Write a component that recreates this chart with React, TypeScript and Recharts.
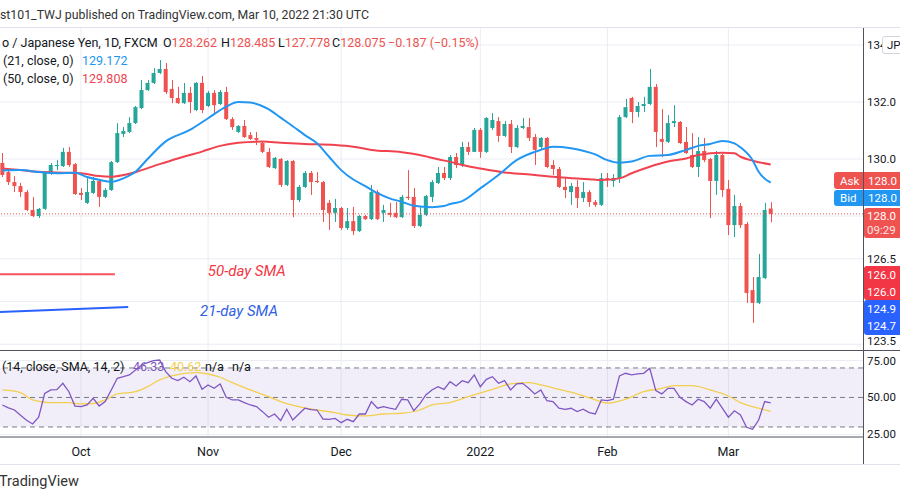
import React from "react";
import {
  ComposedChart,
  Bar,
  Line,
  XAxis,
  YAxis,
  CartesianGrid,
  ReferenceLine,
  ReferenceArea,
  ReferenceDot,
} from "recharts";

const FONT = "Roboto, 'Open Sans', sans-serif";
const UP = "#26a69a";
const DOWN = "#ef5350";
const GRID = "#e9edf3";
const BORDER = "#50535e";
const TEXT = "#131722";

// daily EUR/JPY bars, Sep 14 2021 .. Mar 10 2022
const opens = [
  129.86, 129.54, 129.19, 129.05, 128.84, 128.21, 128.0, 128.25, 129.51, 129.75,
  129.75, 130.25, 129.82, 128.81, 128.46, 128.81, 129.23, 128.67, 128.91, 129.89,
  130.88, 130.95, 131.26, 131.79, 132.42, 132.67, 133.02, 133.16, 132.46, 132.14,
  131.96, 132.32, 131.72, 132.67, 131.86, 132.32, 131.93, 132.35, 131.4, 130.95,
  131.16, 130.84, 130.74, 130.56, 130.25, 129.68, 130.0, 129.09, 129.93, 128.56,
  129.02, 129.51, 129.23, 129.19, 128.46, 128.11, 128.28, 127.58, 127.82, 127.47,
  128.0, 127.89, 128.84, 128.11, 128.11, 128.11, 127.96, 128.67, 128.67, 127.65,
  128.04, 128.67, 129.16, 129.51, 129.33, 130.07, 129.79, 130.42, 130.25, 131.02,
  130.25, 131.09, 131.33, 130.81, 131.23, 130.42, 131.09, 131.12, 130.77, 130.42,
  130.74, 129.79, 129.65, 129.02, 128.84, 129.02, 128.63, 128.84, 128.49, 128.39,
  129.33, 129.23, 129.33, 131.47, 132.14, 131.65, 131.86, 131.93, 132.53, 130.7,
  130.6, 131.26, 131.3, 130.6, 130.14, 129.72, 130.28, 130.0, 129.23, 130.14,
  128.95, 127.68, 128.35, 127.72, 125.4, 124.95, 125.82, 128.262,
];
const highs = [
  130.21, 129.61, 129.4, 129.16, 128.91, 128.67, 128.28, 129.54, 129.86, 129.96,
  130.39, 130.42, 129.86, 128.98, 129.33, 129.37, 129.26, 128.98, 129.93, 131.26,
  131.12, 131.47, 131.86, 132.77, 132.77, 133.19, 133.47, 133.37, 132.77, 132.53,
  132.67, 132.53, 132.7, 132.91, 132.39, 132.42, 132.42, 132.53, 131.47, 131.19,
  131.37, 130.95, 130.95, 130.6, 130.39, 130.07, 130.04, 129.96, 129.96, 129.09,
  129.58, 129.58, 129.54, 129.23, 128.56, 128.6, 128.32, 128.28, 128.32, 128.04,
  128.04, 129.09, 128.91, 128.39, 128.46, 128.49, 128.74, 129.61, 128.98, 128.32,
  128.74, 129.26, 129.72, 129.72, 130.14, 130.21, 130.6, 130.6, 131.09, 131.09,
  131.47, 131.61, 131.47, 131.33, 131.37, 131.19, 131.44, 131.44, 130.88, 130.77,
  130.77, 129.96, 129.72, 129.33, 129.16, 129.26, 129.19, 128.91, 128.56, 129.51,
  129.51, 129.47, 131.54, 132.11, 132.18, 132.0, 132.18, 133.16, 132.63, 131.75,
  131.54, 131.89, 131.33, 131.12, 130.91, 130.77, 130.74, 130.04, 130.28, 130.18,
  129.26, 128.74, 128.46, 127.79, 125.86, 126.67, 128.46, 128.485,
];
const lows = [
  129.37, 129.09, 128.84, 128.67, 128.17, 127.96, 127.93, 128.21, 129.44, 129.61,
  129.72, 129.72, 128.74, 128.56, 128.42, 128.77, 128.32, 128.63, 128.88, 129.86,
  130.77, 130.91, 131.23, 131.75, 132.39, 132.63, 132.98, 132.28, 131.96, 131.93,
  131.93, 131.61, 131.68, 131.61, 131.82, 131.58, 131.89, 131.37, 131.02, 130.91,
  130.74, 130.67, 130.49, 130.21, 129.68, 129.65, 129.02, 129.05, 127.96, 128.49,
  128.98, 128.74, 129.16, 127.79, 127.51, 127.79, 127.51, 127.51, 127.33, 127.44,
  127.86, 127.86, 127.86, 127.79, 127.96, 127.93, 127.93, 128.56, 127.58, 127.61,
  128.0, 128.49, 129.12, 129.26, 129.26, 129.68, 129.72, 130.14, 130.25, 130.04,
  130.21, 131.02, 130.6, 130.77, 130.21, 130.39, 131.05, 130.63, 129.79, 130.32,
  129.68, 129.44, 128.98, 128.63, 128.39, 128.28, 128.49, 128.32, 128.32, 128.35,
  129.02, 129.02, 129.16, 131.44, 131.26, 131.47, 131.65, 131.89, 130.42, 130.07,
  130.56, 131.12, 130.53, 130.18, 129.68, 129.37, 129.89, 127.93, 128.74, 128.67,
  127.33, 127.26, 127.58, 124.95, 124.25, 124.91, 125.79, 127.778,
];
const closes = [
  129.44, 129.19, 129.05, 128.84, 128.21, 128.0, 128.25, 129.51, 129.79, 129.79,
  130.25, 129.79, 128.77, 128.74, 128.84, 129.23, 128.67, 128.91, 129.89, 130.91,
  130.98, 131.26, 131.82, 132.42, 132.67, 133.02, 133.16, 132.35, 132.14, 131.96,
  132.32, 132.0, 132.67, 131.72, 132.32, 131.89, 132.35, 131.4, 131.12, 131.16,
  130.77, 130.7, 130.67, 130.25, 129.72, 130.04, 129.09, 129.93, 128.56, 129.02,
  129.51, 129.19, 129.19, 128.21, 128.11, 128.28, 127.58, 127.82, 127.47, 128.0,
  127.89, 128.84, 127.89, 128.21, 128.04, 127.96, 128.67, 128.63, 127.65, 128.04,
  128.7, 129.19, 129.51, 129.33, 130.07, 129.79, 130.42, 130.25, 131.02, 130.25,
  131.44, 131.37, 130.81, 131.23, 130.42, 131.09, 131.16, 130.74, 130.32, 130.74,
  129.72, 129.65, 129.02, 128.91, 129.05, 128.63, 128.84, 128.49, 128.39, 129.33,
  129.26, 129.33, 131.47, 131.82, 131.65, 131.86, 131.93, 132.53, 130.95, 130.6,
  131.26, 131.33, 130.56, 130.21, 129.72, 130.28, 129.96, 129.23, 130.14, 128.91,
  127.68, 128.35, 127.68, 125.3, 124.95, 125.86, 128.21, 128.075,
];

// moving averages as [bar, value]
const sma21Points: [number, number][] = [
  [0, 129.6], [3, 129.61], [6, 129.54], [9, 129.5], [12, 129.52], [14, 129.37],
  [16, 129.27], [18, 129.2], [20, 129.32], [22, 129.55], [24, 130.0], [27, 130.62],
  [31, 131.02], [34, 131.43], [37, 131.84], [39, 132.0], [41, 131.98], [44, 131.75],
  [46, 131.45], [48, 131.15], [50, 130.84], [52, 130.55], [54, 130.08], [56, 129.61],
  [58, 129.28], [60, 129.05], [62, 128.8], [64, 128.62], [66, 128.5], [68, 128.36],
  [71, 128.31], [73, 128.35], [74, 128.42], [76, 128.52], [79, 128.97], [82, 129.44],
  [85, 129.96], [89, 130.32], [91, 130.43], [94, 130.38], [98, 130.16], [100, 129.96],
  [102, 129.87], [104, 129.91], [107, 130.11], [110, 130.14], [113, 130.32], [115, 130.46],
  [117, 130.53], [119, 130.63], [121, 130.55], [122, 130.41], [124, 129.96], [125, 129.55],
  [127, 129.172],
];
const sma50Points: [number, number][] = [
  [0, 129.67], [3, 129.61], [6, 129.55], [10, 129.52], [13, 129.5], [16, 129.4],
  [18, 129.38], [21, 129.48], [23, 129.61], [26, 129.82], [29, 130.02], [33, 130.26],
  [36, 130.46], [39, 130.57], [43, 130.61], [46, 130.57], [50, 130.53], [55, 130.49],
  [58, 130.43], [61, 130.32], [66, 130.24], [69, 130.14], [72, 129.99], [74, 129.9],
  [76, 129.79], [79, 129.67], [83, 129.53], [88, 129.44], [92, 129.36], [97, 129.29],
  [99, 129.26], [102, 129.32], [104, 129.5], [107, 129.73], [110, 129.91], [113, 130.02],
  [115, 130.14], [119, 130.22], [121, 130.2], [122, 130.08], [124, 129.94], [127, 129.808],
];

// RSI(14) per bar and its SMA(14)
const rsiValues = [
  44.9, 43.0, 41.5, 38.0, 34.5, 32.0, 36.6, 52.8, 55.1, 55.3,
  59.6, 53.9, 44.2, 43.8, 45.0, 49.4, 44.2, 47.2, 55.1, 63.0,
  64.1, 65.3, 68.6, 72.0, 73.6, 75.0, 75.4, 67.5, 63.0, 61.4,
  63.7, 60.7, 64.6, 55.5, 58.5, 56.2, 59.2, 50.1, 48.3, 48.3,
  46.5, 44.9, 43.8, 40.4, 36.6, 38.8, 34.3, 42.0, 34.7, 38.8,
  42.7, 41.8, 41.5, 35.4, 35.2, 35.8, 32.9, 35.2, 33.6, 38.8,
  38.8, 47.2, 42.7, 43.8, 42.7, 42.0, 48.8, 48.3, 41.0, 45.6,
  51.7, 55.1, 57.3, 55.5, 60.7, 57.8, 61.4, 60.0, 65.3, 57.3,
  62.3, 64.1, 59.6, 61.4, 55.1, 59.2, 59.6, 56.2, 52.4, 55.1,
  47.8, 47.2, 42.7, 42.0, 42.7, 40.4, 42.0, 39.7, 38.8, 48.3,
  47.8, 48.8, 64.6, 66.4, 65.3, 66.0, 66.4, 69.8, 54.6, 52.4,
  56.2, 56.2, 50.1, 47.2, 44.9, 48.8, 47.2, 42.7, 48.8, 42.7,
  36.6, 41.0, 38.1, 29.8, 28.4, 34.7, 47.2, 46.33,
];
const rsiMaPoints: [number, number][] = [
  [0, 55.1], [3, 53.3], [5, 48.3], [8, 46.5], [11, 46.5], [13, 45.6], [15, 45.9],
  [17, 48.3], [19, 52.4], [22, 53.9], [24, 57.3], [26, 61.9], [28, 64.6], [32, 66.8],
  [34, 65.9], [36, 63.7], [38, 60.0], [41, 55.1], [44, 50.5], [46, 47.2], [49, 43.8],
  [52, 41.5], [55, 39.7], [57, 38.1], [60, 37.5], [63, 38.8], [66, 39.3], [69, 41.5],
  [71, 44.9], [74, 46.5], [77, 50.5], [81, 55.5], [84, 59.2], [87, 60.0], [89, 58.5],
  [92, 55.5], [95, 52.4], [98, 48.3], [100, 46.1], [103, 48.8], [106, 53.9], [109, 56.2],
  [111, 58.0], [114, 58.0], [117, 55.1], [120, 51.0], [122, 46.5], [125, 42.7], [127, 40.62],
];

// hand-drawn trend lines on the chart: [bar, price]
const redTrend = [[-0.39, 125.96], [18.6, 125.96]];
const blueTrend = [[-0.39, 124.63], [20.8, 124.81]];

const monthTicks = [13, 34, 56, 79, 100, 120];
const monthLabels = ["Oct", "Nov", "Dec", "2022", "Feb", "Mar"];
const priceTicks = [134, 132, 130, 128, 126.5, 125, 123.5];
const rsiTicks = [75, 50, 25];
const lastClose = 128.075;

const X_DOMAIN: [number, number] = [-0.39, 142.25];

const sma21Map = new Map(sma21Points);
const sma50Map = new Map(sma50Points);
const rsiMaMap = new Map(rsiMaPoints);

const priceRows = opens.map((o, i) => ({
  i,
  open: o,
  high: highs[i],
  low: lows[i],
  close: closes[i],
  range: [lows[i], highs[i]],
  sma21: sma21Map.get(i),
  sma50: sma50Map.get(i),
}));

const rsiRows = rsiValues.map((v, i) => ({ i, rsi: v, rsiMa: rsiMaMap.get(i) }));

const Candle = (props: any) => {
  const { x, y, width, height, payload } = props;
  if (height == null || !payload) return null;
  const { open, close, high, low } = payload;
  const color = close >= open ? UP : DOWN;
  const k = height / (high - low || 1);
  const yO = y + (high - open) * k;
  const yC = y + (high - close) * k;
  const top = Math.min(yO, yC);
  const h = Math.max(1, Math.abs(yO - yC));
  const cx = Math.round(x + width / 2) + 0.5;
  return (
    <g>
      <line x1={cx} x2={cx} y1={y} y2={y + height} stroke={color} strokeWidth={1} />
      <rect x={x} y={top} width={width} height={h} fill={color} />
    </g>
  );
};

const PriceTick = (p: any) => (
  <text x={867} y={p.y} dy={4} fontSize={11.5} fill={TEXT} fontFamily={FONT}>
    {Number(p.payload.value).toFixed(1)}
  </text>
);

const RsiTick = (p: any) => (
  <text x={867} y={p.y} dy={4} fontSize={11.5} fill={TEXT} fontFamily={FONT}>
    {Number(p.payload.value).toFixed(2)}
  </text>
);

const noteShape = (text: string, color: string) => (p: any) => (
  <text
    x={p.cx}
    y={p.cy}
    dy={5}
    textAnchor="middle"
    fill={color}
    fontSize={15}
    fontStyle="italic"
    fontFamily={FONT}
  >
    {text}
  </text>
);

const abs = (x: number, y: number, extra: React.CSSProperties = {}): React.CSSProperties => ({
  position: "absolute",
  left: x,
  top: y,
  whiteSpace: "nowrap",
  lineHeight: "14px",
  ...extra,
});

const Tag = ({ x, y, w, h, bg, children }: any) => (
  <div
    style={{
      position: "absolute",
      left: x,
      top: y,
      width: w,
      height: h,
      background: bg,
      color: "#fff",
      fontSize: 11.5,
      lineHeight: "12px",
      borderRadius: "3px 0 0 3px",
      overflow: "hidden",
    }}
  >
    {children}
  </div>
);

export default function App() {
  return (
    <div
      style={{
        position: "relative",
        width: 900,
        height: 500,
        background: "#fff",
        overflow: "hidden",
        fontFamily: FONT,
        color: TEXT,
      }}
    >
      <style>{"body{margin:0;background:#fff}"}</style>

      {/* header */}
      <div style={abs(0, 8, { fontSize: 12.3, color: "#333" })}>
        st101_TWJ published on TradingView.com, Mar 10, 2022 21:30 UTC
      </div>
      <div style={{ position: "absolute", left: 0, top: 27, width: 900, height: 1, background: "#e0e3eb" }} />

      {/* price pane */}
      <div style={{ position: "absolute", left: 0, top: 28 }}>
        <ComposedChart width={900} height={322} data={priceRows} margin={{ top: 0, right: 0, bottom: 0, left: 0 }}>
          <CartesianGrid stroke={GRID} horizontalValues={priceTicks} verticalValues={monthTicks} />
          <XAxis type="number" dataKey="i" domain={X_DOMAIN} allowDataOverflow hide />
          <YAxis
            orientation="right"
            width={37}
            domain={[123.298, 134.597]}
            allowDataOverflow
            ticks={priceTicks}
            axisLine={false}
            tickLine={false}
            tick={PriceTick}
          />
          <ReferenceLine y={lastClose} stroke={DOWN} strokeDasharray="1 2" />
          <Bar dataKey="range" barSize={4} shape={Candle} isAnimationActive={false} />
          <Line
            dataKey="sma50"
            type="monotone"
            stroke="#f0434f"
            strokeWidth={2}
            dot={false}
            connectNulls
            isAnimationActive={false}
          />
          <Line
            dataKey="sma21"
            type="monotone"
            stroke="#2196f3"
            strokeWidth={2}
            dot={false}
            connectNulls
            isAnimationActive={false}
          />
          <ReferenceLine
            segment={redTrend.map(([x, y]) => ({ x, y }))}
            stroke="#f7525f"
            strokeWidth={2}
            ifOverflow="visible"
          />
          <ReferenceLine
            segment={blueTrend.map(([x, y]) => ({ x, y }))}
            stroke="#2962ff"
            strokeWidth={2}
            ifOverflow="visible"
          />
          <ReferenceDot x={40.4} y={126.07} r={0} shape={noteShape("50-day SMA", "#f23645")} />
          <ReferenceDot x={39.1} y={124.67} r={0} shape={noteShape("21-day SMA", "#2f5fe6")} />
        </ComposedChart>
      </div>

      {/* legend */}
      <div style={abs(2, 36, { fontSize: 12.5 })}>o / Japanese Yen, 1D, FXCM</div>
      <div style={abs(163, 36, { fontSize: 12.5 })}>
        O<span style={{ color: DOWN }}>128.262</span>
      </div>
      <div style={abs(221, 36, { fontSize: 12.5 })}>
        H<span style={{ color: DOWN }}>128.485</span>
      </div>
      <div style={abs(278, 36, { fontSize: 12.5 })}>
        L<span style={{ color: DOWN }}>127.778</span>
      </div>
      <div style={abs(332, 36, { fontSize: 12.5 })}>
        C<span style={{ color: DOWN }}>128.075</span>
      </div>
      <div style={abs(388, 36, { fontSize: 12.5, color: DOWN })}>−0.187 (−0.15%)</div>
      <div style={abs(3, 54, { fontSize: 12.5 })}>(21, close, 0)</div>
      <div style={abs(82, 54, { fontSize: 12.5, color: "#2196f3" })}>129.172</div>
      <div style={abs(3, 72, { fontSize: 12.5 })}>(50, close, 0)</div>
      <div style={abs(82, 72, { fontSize: 12.5, color: "#f0434f" })}>129.808</div>

      {/* right scale tags */}
      <div
        style={{
          position: "absolute",
          left: 882,
          top: 36,
          width: 30,
          height: 16,
          background: "#fff",
          border: "1px solid #d1d4dc",
          borderRadius: 3,
          fontSize: 11.5,
          lineHeight: "16px",
          paddingLeft: 4,
        }}
      >
        JPY
      </div>
      <Tag x={834} y={172} w={66} h={17} bg={DOWN}>
        <span style={{ position: "absolute", left: 6, top: 3 }}>Ask</span>
        <span style={{ position: "absolute", left: 34, top: 3 }}>128.0</span>
      </Tag>
      <Tag x={834} y={190} w={66} h={16} bg="#2196f3">
        <span style={{ position: "absolute", left: 6, top: 2 }}>Bid</span>
        <span style={{ position: "absolute", left: 34, top: 2 }}>128.0</span>
      </Tag>
      <Tag x={864} y={208} w={36} h={30} bg={DOWN}>
        <span style={{ position: "absolute", left: 3, top: 2 }}>128.0</span>
        <span style={{ position: "absolute", left: 3, top: 16, opacity: 0.85 }}>09:29</span>
      </Tag>
      <Tag x={864} y={266} w={36} h={34} bg="#f23645">
        <span style={{ position: "absolute", left: 3, top: 3 }}>126.0</span>
        <span style={{ position: "absolute", left: 3, top: 20 }}>126.0</span>
      </Tag>
      <Tag x={864} y={300} w={36} h={35} bg="#2962ff">
        <span style={{ position: "absolute", left: 3, top: 3 }}>124.9</span>
        <span style={{ position: "absolute", left: 3, top: 20 }}>124.7</span>
      </Tag>

      {/* rsi pane */}
      <div style={{ position: "absolute", left: 0, top: 351 }}>
        <ComposedChart width={900} height={114} data={rsiRows} margin={{ top: 0, right: 0, bottom: 0, left: 0 }}>
          <CartesianGrid stroke={GRID} horizontalValues={[75, 25]} verticalValues={monthTicks} />
          <XAxis
            type="number"
            dataKey="i"
            domain={X_DOMAIN}
            allowDataOverflow
            ticks={monthTicks}
            tickFormatter={(v: number) => monthLabels[monthTicks.indexOf(v)]}
            height={28}
            axisLine={{ stroke: BORDER }}
            tickLine={false}
            tickMargin={4}
            tick={{ fill: TEXT, fontSize: 12.5, fontFamily: FONT }}
          />
          <YAxis
            orientation="right"
            width={37}
            domain={[23.2, 81.5]}
            allowDataOverflow
            ticks={rsiTicks}
            axisLine={false}
            tickLine={false}
            tick={RsiTick}
          />
          <ReferenceArea y1={30} y2={70} fill="#7e57c2" fillOpacity={0.1} stroke="none" />
          <ReferenceLine y={70} stroke="#787b86" strokeDasharray="5 4" />
          <ReferenceLine y={50} stroke="#787b86" strokeDasharray="5 4" />
          <ReferenceLine y={30} stroke="#787b86" strokeDasharray="5 4" />
          <Line
            dataKey="rsiMa"
            type="monotone"
            stroke="#f2cf4f"
            strokeWidth={1.3}
            dot={false}
            connectNulls
            isAnimationActive={false}
          />
          <Line
            dataKey="rsi"
            type="linear"
            stroke="#7e57c2"
            strokeWidth={1.3}
            dot={false}
            isAnimationActive={false}
          />
        </ComposedChart>
      </div>

      <div style={abs(2, 360, { fontSize: 12.5 })}>(14, close, SMA, 14, 2)</div>
      <div style={abs(133, 360, { fontSize: 12.5, color: "#7e57c2" })}>46.33</div>
      <div style={abs(170, 360, { fontSize: 12.5, color: "#f2cf4f" })}>40.62</div>
      <div style={abs(205, 360, { fontSize: 12.5 })}>n/a</div>
      <div style={abs(232, 360, { fontSize: 12.5 })}>n/a</div>

      {/* pane borders */}
      <div style={{ position: "absolute", left: 0, top: 350, width: 900, height: 1, background: BORDER }} />
      <div style={{ position: "absolute", left: 863, top: 28, width: 1, height: 437, background: BORDER }} />
      <div style={{ position: "absolute", left: 0, top: 464, width: 900, height: 1, background: "#e0e3eb" }} />

      {/* footer */}
      <div style={abs(-1, 475, { fontSize: 14.5, color: "#333" })}>TradingView</div>
    </div>
  );
}
